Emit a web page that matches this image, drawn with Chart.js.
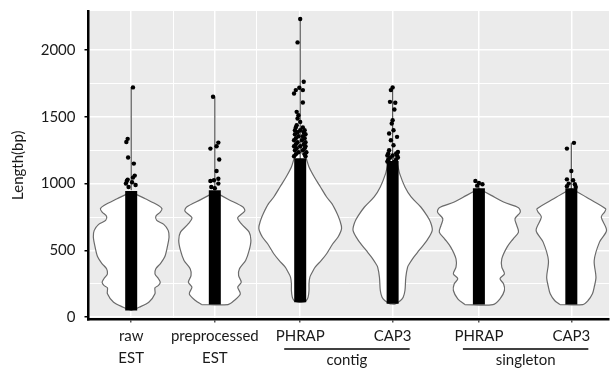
<!DOCTYPE html>
<html>
<head>
<meta charset="utf-8">
<script src="https://cdn.jsdelivr.net/npm/chart.js@4.4.0/dist/chart.umd.min.js"></script>
<style>
  html, body { margin: 0; padding: 0; background: #fff; }
  canvas { display: block; }
</style>
</head>
<body>
<canvas id="violinChart" width="613" height="368"></canvas>
<script>
// categories and where they sit on the x axis
const groups = ["raw EST", "preprocessed EST", "contig PHRAP", "contig CAP3", "singleton PHRAP", "singleton CAP3"];
const tickLines = [["raw", "EST"], ["preprocessed", "EST"], "PHRAP", "CAP3", "PHRAP", "CAP3"];
const xPos = [1, 1.95, 2.92, 3.97, 4.95, 6];
const minorX = [1.485, 2.42];
const groupNames = ["contig", "singleton"];
const groupMembers = [[2, 3], [4, 5]];

const yTicks = [0, 250, 500, 750, 1000, 1250, 1500, 1750, 2000];

// violin half widths: [length, half width in x units]
const violinRaw = [[50, 0], [75, 0.09], [112, 0.2], [175, 0.27], [220, 0.27], [238, 0.31], [262, 0.33], [288, 0.31], [325, 0.27], [363, 0.28], [400, 0.33], [450, 0.38], [525, 0.41], [600, 0.43], [650, 0.42], [695, 0.37], [725, 0.29], [755, 0.28], [787, 0.33], [812, 0.35], [837, 0.31], [887, 0.16], [937, 0]];
const violinPre = [[95, 0.15], [125, 0.22], [175, 0.29], [225, 0.26], [262, 0.3], [313, 0.27], [363, 0.28], [425, 0.35], [500, 0.39], [575, 0.41], [637, 0.39], [700, 0.3], [745, 0.26], [795, 0.34], [825, 0.32], [880, 0.16], [937, 0]];
const violinContigPhrap = [[112, 0.03], [125, 0.07], [150, 0.09], [200, 0.1], [250, 0.1], [300, 0.11], [340, 0.14], [375, 0.17], [425, 0.24], [475, 0.3], [550, 0.37], [600, 0.43], [665, 0.47], [725, 0.45], [775, 0.42], [850, 0.36], [900, 0.3], [975, 0.23], [1050, 0.16], [1125, 0.1], [1200, 0.06], [1240, 0]];
const violinContigCap3 = [[100, 0.03], [125, 0.09], [150, 0.12], [200, 0.14], [300, 0.15], [375, 0.17], [400, 0.19], [450, 0.24], [500, 0.3], [575, 0.39], [650, 0.45], [712, 0.43], [760, 0.39], [825, 0.32], [900, 0.21], [975, 0.14], [1075, 0.08], [1150, 0.05], [1200, 0]];
const violinSingPhrap = [[95, 0.16], [138, 0.24], [200, 0.29], [250, 0.28], [288, 0.24], [325, 0.29], [375, 0.26], [437, 0.26], [525, 0.32], [587, 0.39], [637, 0.45], [687, 0.43], [737, 0.41], [787, 0.47], [820, 0.45], [862, 0.28], [912, 0.14], [962, 0]];
const violinSingCap3 = [[95, 0.13], [125, 0.19], [175, 0.24], [225, 0.26], [300, 0.28], [425, 0.26], [562, 0.32], [650, 0.4], [750, 0.34], [790, 0.38], [812, 0.39], [887, 0.2], [962, 0]];
const violins = [violinRaw, violinPre, violinContigPhrap, violinContigCap3, violinSingPhrap, violinSingCap3];

// dense strip of points [low, high] and the thin tail up to the max
const stripRange = [[50, 945], [95, 950], [112, 1190], [100, 1170], [95, 965], [95, 965]];
const tailRange = [[950, 1720], [950, 1650], [1150, 2232], [1150, 1720], [950, 1005], [950, 1305]];

// single points outside the strip: [length, x jitter]
const outRaw = [[1720, 0.02], [1335, -0.04], [1312, -0.055], [1195, -0.035], [1150, 0.03], [1060, 0.04], [1045, 0.02], [1030, -0.04], [1020, -0.05], [1010, 0.01], [1000, -0.06], [990, 0.05], [975, -0.03]];
const outPre = [[1650, -0.02], [1307, 0.04], [1280, 0.02], [1262, -0.05], [1180, 0.05], [1095, 0.02], [1037, 0.04], [1025, -0.01], [1020, -0.05], [1000, 0.04], [975, -0.04], [965, 0]];
const outContigPhrap = [[2232, 0], [2057, -0.03], [1762, 0.04], [1717, -0.01], [1700, -0.05], [1700, 0.03], [1675, -0.07], [1607, 0.03], [1537, -0.04], [1512, -0.02], [1487, -0.03], [1462, 0], [1437, -0.04],
  [1420, -0.05], [1420, 0.03], [1400, 0], [1400, -0.06], [1400, 0.05], [1385, -0.03], [1385, 0.04], [1370, 0.06], [1370, -0.06], [1355, -0.02], [1355, 0.03], [1340, 0.05], [1340, -0.05], [1325, -0.07], [1325, 0.02],
  [1310, 0.06], [1310, -0.03], [1295, -0.05], [1295, 0.04], [1280, 0], [1280, -0.07], [1280, 0.06], [1265, -0.04], [1265, 0.05], [1250, 0.03], [1250, -0.06], [1235, -0.02], [1235, 0.07], [1220, 0.05], [1220, -0.05], [1205, -0.07], [1205, 0.06]];
const outContigCap3 = [[1720, 0], [1700, -0.02], [1612, -0.03], [1605, 0.03], [1555, 0.02], [1475, 0], [1450, -0.01], [1400, 0.01], [1375, -0.04], [1350, 0.05], [1325, -0.02], [1287, 0.01], [1250, -0.04], [1237, 0.06],
  [1225, -0.05], [1225, 0.04], [1210, 0], [1210, -0.06], [1210, 0.05], [1195, -0.03], [1195, 0.06], [1180, 0.04], [1180, -0.05], [1165, -0.06], [1165, 0.02]];
const outSingPhrap = [[1020, -0.04], [1005, 0], [995, 0.04], [985, -0.02]];
const outSingCap3 = [[1305, 0.03], [1262, -0.05], [1095, 0], [1032, -0.05], [1025, 0.02], [1000, -0.03], [995, 0.04], [980, -0.05], [975, 0.05]];
const outliers = [outRaw, outPre, outContigPhrap, outContigCap3, outSingPhrap, outSingCap3];

const FONT = "Lato";
const TEXT = "#1a1a1a";

function violinShape(profile, cx) {
  const left = profile.map(([v, w]) => ({ x: cx - w, y: v }));
  const right = profile.slice().reverse().map(([v, w]) => ({ x: cx + w, y: v }));
  const pts = left.concat(right);
  pts.push(pts[0]);
  return pts;
}

const datasets = [];
groups.forEach((g, i) => {
  datasets.push({
    type: "scatter", label: g + " points",
    data: outliers[i].map(([v, dx]) => ({ x: xPos[i] + dx, y: v })),
    pointRadius: 2.2, backgroundColor: "#000", borderWidth: 0, order: 0
  });
  datasets.push({
    type: "line", label: g + " strip",
    data: stripRange[i].map(v => ({ x: xPos[i], y: v })),
    borderColor: "#000", borderWidth: 12, borderCapStyle: "butt",
    pointRadius: 0, fill: false, order: 1
  });
  datasets.push({
    type: "line", label: g + " tail",
    data: tailRange[i].map(v => ({ x: xPos[i], y: v })),
    borderColor: "#555", borderWidth: 1.2, pointRadius: 0, fill: false, order: 2
  });
  datasets.push({
    type: "line", label: g,
    data: violinShape(violins[i], xPos[i]),
    borderColor: "#6b6b6b", borderWidth: 1.2, backgroundColor: "#fff",
    fill: "shape", tension: 0.3, pointRadius: 0, order: 3
  });
});

const panelPlugin = {
  id: "panel",
  beforeDraw(chart) {
    const { ctx, chartArea: a } = chart;
    ctx.save();
    ctx.fillStyle = "#fff";
    ctx.fillRect(0, 0, chart.width, chart.height);
    ctx.fillStyle = "#ebebeb";
    ctx.fillRect(a.left, a.top, a.right - a.left, a.bottom - a.top);
    ctx.restore();
  },
  afterDraw(chart) {
    const { ctx } = chart;
    const xs = chart.scales.x;
    ctx.save();
    ctx.font = "15px " + FONT;
    ctx.fillStyle = TEXT;
    ctx.strokeStyle = "#000";
    ctx.lineWidth = 1.5;
    ctx.textAlign = "center";
    ctx.textBaseline = "alphabetic";
    groupNames.forEach((name, k) => {
      const [i0, i1] = groupMembers[k];
      const x0 = xs.getPixelForValue(xPos[i0]) - 16;
      const x1 = xs.getPixelForValue(xPos[i1]) + 17;
      ctx.beginPath();
      ctx.moveTo(x0, 349);
      ctx.lineTo(x1, 349);
      ctx.stroke();
      ctx.fillText(name, (x0 + x1) / 2, 365);
    });
    ctx.restore();
  }
};

new Chart(document.getElementById("violinChart"), {
  type: "scatter",
  data: { datasets },
  options: {
    responsive: false,
    animation: false,
    devicePixelRatio: 1,
    layout: { padding: { top: 11, right: 0, left: 0, bottom: 0 } },
    plugins: { legend: { display: false }, tooltip: { enabled: false } },
    scales: {
      x: {
        type: "linear",
        min: 0.515,
        max: 6.428,
        afterFit: s => { s.height = 48.5; s.paddingLeft = 0; s.paddingRight = 0; },
        afterBuildTicks: s => { s.ticks = xPos.concat(minorX).sort((a, b) => a - b).map(v => ({ value: v })); },
        border: { display: true, color: "#000", width: 2.5 },
        grid: {
          color: "#fff",
          lineWidth: c => (c.tick && minorX.includes(c.tick.value) ? 1 : 1.5),
          tickColor: c => (c.tick && minorX.includes(c.tick.value) ? "rgba(0,0,0,0)" : "#555"),
          tickLength: 3
        },
        ticks: {
          autoSkip: false,
          maxRotation: 0,
          padding: 3,
          color: TEXT,
          font: { family: FONT, size: 15, lineHeight: 1.45 },
          callback: v => {
            const i = xPos.indexOf(v);
            return i < 0 ? "" : tickLines[i];
          }
        }
      },
      y: {
        min: -17,
        max: 2292,
        afterFit: s => { s.width = 88.5; s.paddingTop = 0; s.paddingBottom = 0; },
        afterBuildTicks: s => { s.ticks = yTicks.map(v => ({ value: v })); },
        border: { display: true, color: "#000", width: 2.5 },
        grid: {
          color: "#fff",
          lineWidth: c => (c.tick && c.tick.value % 500 === 0 ? 1.5 : 1),
          tickColor: c => (c.tick && c.tick.value % 500 === 0 ? "#000" : "rgba(0,0,0,0)"),
          tickLength: 4
        },
        ticks: {
          padding: 9,
          color: TEXT,
          font: { family: FONT, size: 15 },
          callback: v => (v % 500 === 0 ? String(v) : "")
        },
        title: {
          display: true,
          text: "Length(bp)",
          color: TEXT,
          font: { family: FONT, size: 15 },
          padding: { top: 9, bottom: 0 }
        }
      }
    }
  },
  plugins: [panelPlugin]
});
</script>
</body>
</html>
